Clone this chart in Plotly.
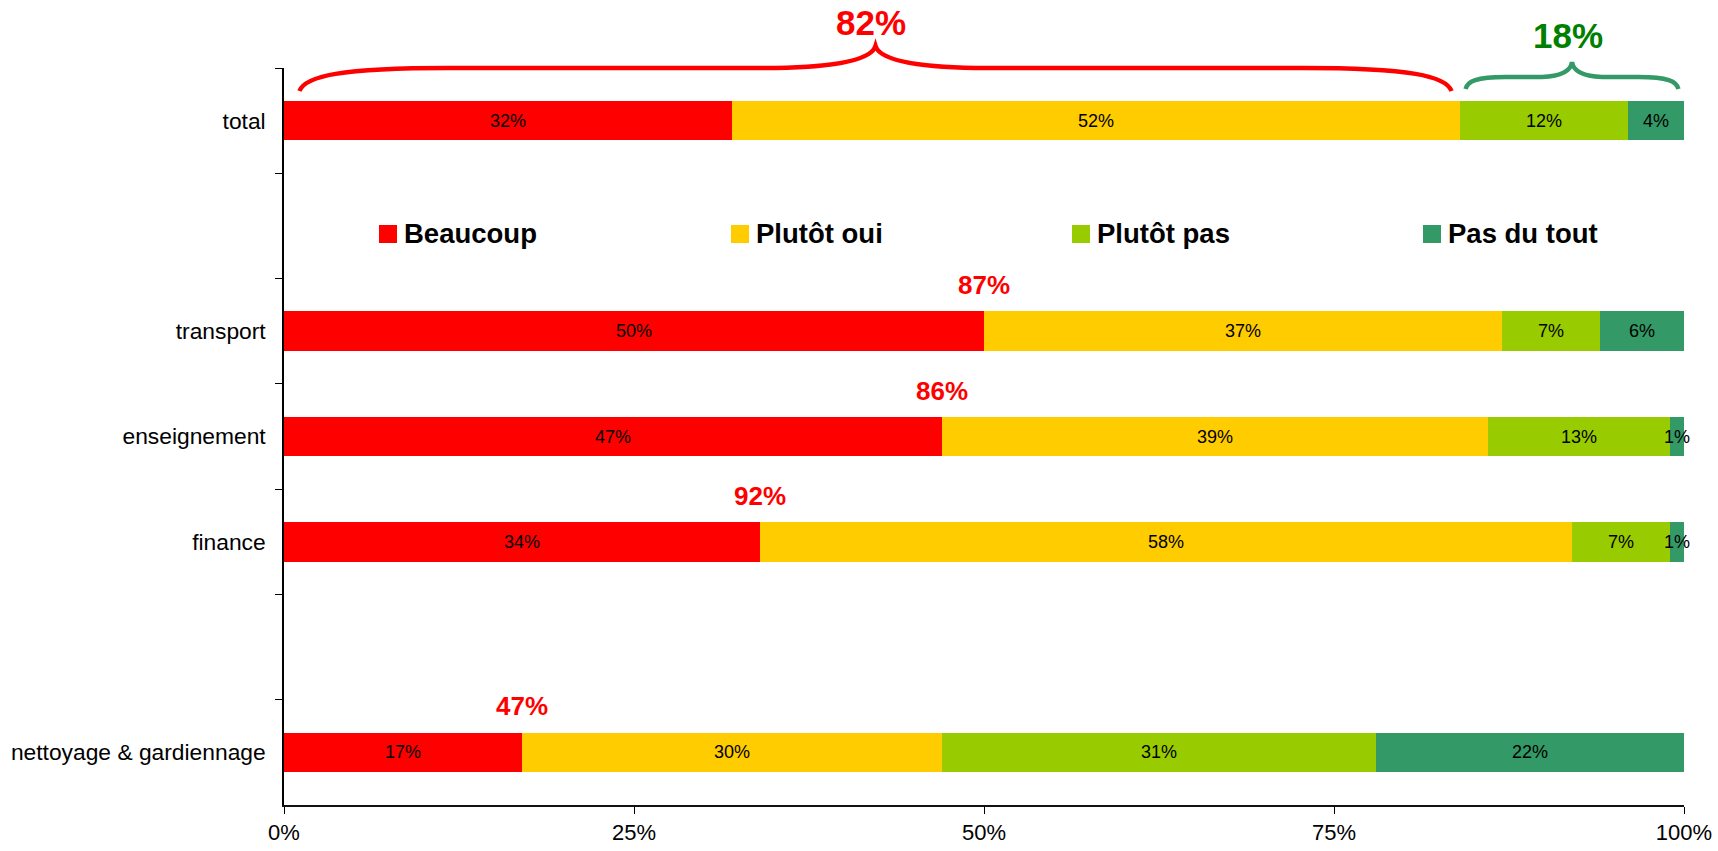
import plotly.graph_objects as go

# ---------------- data ----------------
categories = ["total", " ", "transport", "enseignement", "finance", "  ", "nettoyage & gardiennage"]
beaucoup    = [32, None, 50, 47, 34, None, 17]
plutot_oui  = [52, None, 37, 39, 58, None, 30]
plutot_pas  = [12, None, 7, 13, 7, None, 31]
pas_du_tout = [4, None, 6, 1, 1, None, 22]
series_names = ["Beaucoup", "Plutôt oui", "Plutôt pas", "Pas du tout"]
series_colors = ["#FF0000", "#FFCC00", "#99CC00", "#339966"]
favorable_labels = [None, None, "87%", "86%", "92%", None, "47%"]
total_favorable_label = "82%"
total_unfavorable_label = "18%"
x_ticks = [0, 25, 50, 75, 100]
x_tick_labels = ["0%", "25%", "50%", "75%", "100%"]

# ---------------- layout geometry (page pixel coordinates) ----------------
W, H = 1718, 851
PX0, PX1, PY0, PY1 = 284, 1684, 68, 805   # plot area in pixels
PW, PH = PX1 - PX0, PY1 - PY0
ML, MT = PX0, PY0
MR, MB = W - ML - PW, H - MT - PH
FONT = "Arial, Liberation Sans, sans-serif"


def px_of_x(v):
    return PX0 + v / 100.0 * PW


def paper_x(px):
    return (px - PX0) / PW


def paper_y(py):
    return (PY1 - py) / PH


fig = go.Figure()
for name, vals, col in zip(series_names, [beaucoup, plutot_oui, plutot_pas, pas_du_tout], series_colors):
    fig.add_trace(go.Bar(
        y=categories, x=vals, name=name, orientation="h",
        marker=dict(color=col, line=dict(width=0)),
        text=[("" if v is None else f"{v}%") for v in vals],
        texttemplate="%{text}", textposition="inside", insidetextanchor="middle",
        textangle=0, constraintext="none", cliponaxis=False,
        textfont=dict(family=FONT, size=18, color="black"),
        insidetextfont=dict(family=FONT, size=18, color="black"),
        showlegend=False, hoverinfo="skip",
    ))

shapes = []
annotations = []


def brace(x0, x1, y_end, y_line, y_tip, end_len, tip_len, color, width):
    p0, p1 = px_of_x(x0), px_of_x(x1)
    pm = (p0 + p1) / 2.0
    D = y_end - y_line
    R = y_line - y_tip
    E, T = end_len, tip_len

    def pt(px, py):
        return f"{paper_x(px):.5f},{paper_y(py):.5f}"

    path = (
        f"M {pt(p0, y_end)} "
        f"C {pt(p0 + 0.04 * E, y_line + 0.35 * D)} {pt(p0 + 0.27 * E, y_line)} {pt(p0 + E, y_line)} "
        f"L {pt(pm - T, y_line)} "
        f"C {pt(pm - 0.5 * T, y_line - 0.04 * R)} {pt(pm - 0.05 * T, y_line - 0.26 * R)} {pt(pm, y_tip)} "
        f"C {pt(pm + 0.05 * T, y_line - 0.26 * R)} {pt(pm + 0.5 * T, y_line - 0.04 * R)} {pt(pm + T, y_line)} "
        f"L {pt(p1 - E, y_line)} "
        f"C {pt(p1 - 0.27 * E, y_line)} {pt(p1 - 0.04 * E, y_line + 0.35 * D)} {pt(p1, y_end)}"
    )
    shapes.append(dict(type="path", xref="paper", yref="paper", path=path,
                       line=dict(color=color, width=width), fillcolor="rgba(0,0,0,0)"))
    return (x0 + x1) / 2.0


fav_total = beaucoup[0] + plutot_oui[0]
mid_red = brace(1.1, fav_total - 0.6, 91, 68, 46, 150, 100, "#FF0000", 4.5)
mid_green = brace(fav_total + 0.4, 100 - 0.4, 89, 77, 62, 40, 30, "#339966", 4.5)

annotations.append(dict(x=mid_red - 0.3, y=paper_y(22), xref="x", yref="paper",
                        text=f"<b>{total_favorable_label}</b>", showarrow=False,
                        font=dict(family=FONT, size=35, color="#FF0000"),
                        xanchor="center", yanchor="middle"))
annotations.append(dict(x=mid_green - 0.3, y=paper_y(36), xref="x", yref="paper",
                        text=f"<b>{total_unfavorable_label}</b>", showarrow=False,
                        font=dict(family=FONT, size=35, color="#008000"),
                        xanchor="center", yanchor="middle"))

# favourable subtotal labels above bars
for cat, b, lab in zip(categories, beaucoup, favorable_labels):
    if lab is None:
        continue
    annotations.append(dict(x=b, y=cat, xref="x", yref="y", text=f"<b>{lab}</b>",
                            showarrow=False, yshift=46,
                            font=dict(family=FONT, size=26, color="#FF0000"),
                            xanchor="center", yanchor="middle"))

# legend (drawn in the empty row)
legend_left_px = [379, 731, 1072, 1423]
legend_cy = 234
sq = 18
for name, col, lx in zip(series_names, series_colors, legend_left_px):
    shapes.append(dict(type="rect", xref="paper", yref="paper",
                       x0=paper_x(lx), x1=paper_x(lx + sq),
                       y0=paper_y(legend_cy + sq / 2), y1=paper_y(legend_cy - sq / 2),
                       fillcolor=col, line=dict(width=0)))
    annotations.append(dict(x=paper_x(lx + sq + 5), y=paper_y(legend_cy), xref="paper", yref="paper",
                            text=f"<b>{name}</b>", showarrow=False,
                            font=dict(family=FONT, size=27.5, color="black"),
                            xanchor="left", yanchor="middle"))

fig.update_layout(
    width=W, height=H,
    margin=dict(l=ML, r=MR, t=MT, b=MB, pad=0, autoexpand=False),
    barmode="stack", bargap=0.625,
    paper_bgcolor="white", plot_bgcolor="white",
    font=dict(family=FONT, size=22, color="black"),
    shapes=shapes, annotations=annotations,
    showlegend=False,
    xaxis=dict(range=[0, 100], tickvals=x_ticks, ticktext=x_tick_labels,
               ticks="outside", ticklen=7, tickcolor="black", tickwidth=1,
               showline=True, linecolor="#111", linewidth=2,
               showgrid=False, zeroline=False,
               tickfont=dict(family=FONT, size=22, color="black")),
    yaxis=dict(type="category", categoryorder="array", categoryarray=categories,
               range=[6.5, -0.5], ticks="outside", tickson="boundaries",
               ticklen=7, tickcolor="black", tickwidth=1,
               showline=True, linecolor="black", linewidth=1.5,
               showgrid=False, zeroline=False, ticklabelstandoff=12,
               tickfont=dict(family=FONT, size=22.8, color="black")),
)

fig.write_html("out.html", config={"displayModeBar": False},
               post_script="document.body.style.margin='0';document.body.style.overflow='hidden';")
